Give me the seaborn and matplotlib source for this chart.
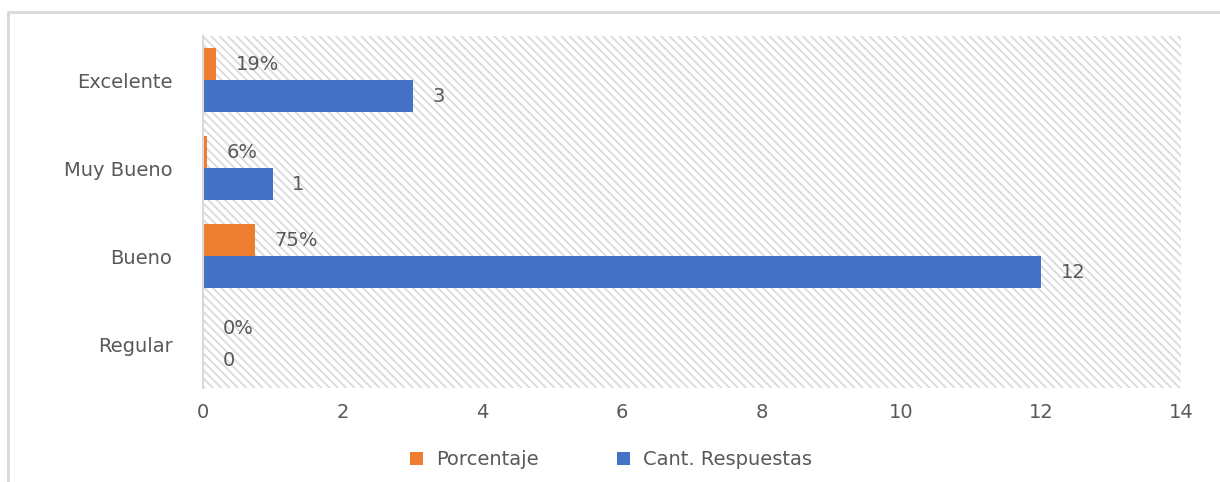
import matplotlib
matplotlib.use("Agg")
import matplotlib.pyplot as plt
from matplotlib.lines import Line2D
from matplotlib.patches import Rectangle
import pandas as pd
import seaborn as sns

# Survey results
categorias = ["Excelente", "Muy Bueno", "Bueno", "Regular"]
porcentaje = [0.19, 0.06, 0.75, 0.00]
cant_respuestas = [3, 1, 12, 0]
series = ["Porcentaje", "Cant. Respuestas"]
x_ticks = [0, 2, 4, 6, 8, 10, 12, 14]

sns.set_theme(style="white")
plt.rcParams["font.family"] = ["DejaVu Sans"]
plt.rcParams["hatch.linewidth"] = 1.3

GRAY_TEXT = "#595959"
ORANGE = "#ED7D31"
BLUE = "#4472C4"
FS = 14

df = pd.DataFrame({
    "categoria": categorias * 2,
    "valor": porcentaje + cant_respuestas,
    "serie": [series[0]] * len(categorias) + [series[1]] * len(categorias),
})

fig = plt.figure(figsize=(12.2, 4.82), dpi=100)
ax = fig.add_axes([0.1664, 0.195, 0.8016, 0.730])

# hatched plot area background
ax.set_facecolor("white")
ax.add_patch(Rectangle((0, 0), 1, 1, transform=ax.transAxes, facecolor="white",
                       edgecolor="#dadada", hatch="\\\\\\\\", linewidth=0, zorder=0))

sns.barplot(data=df, x="valor", y="categoria", hue="serie", orient="h",
            order=categorias, hue_order=series, palette=[ORANGE, BLUE],
            width=0.727, dodge=True, saturation=1, ax=ax, zorder=2,
            errorbar=None, linewidth=0)

# value labels
pct_labels = [f"{round(p * 100):d}%" for p in porcentaje]
cnt_labels = [f"{c:d}" for c in cant_respuestas]
for cont, labs in zip(ax.containers, [pct_labels, cnt_labels]):
    ax.bar_label(cont, labels=labs, padding=14, fontsize=FS, color=GRAY_TEXT)

ax.set_xlim(0, 14)
ax.set_ylim(3.5, -0.5)
ax.set_xticks(x_ticks)
ax.set_xticklabels([str(t) for t in x_ticks])
ax.set_xlabel("")
ax.set_ylabel("")
ax.tick_params(axis="both", length=0, labelsize=FS, colors=GRAY_TEXT)
ax.tick_params(axis="x", pad=11)
ax.tick_params(axis="y", pad=22)

for side in ["top", "right", "bottom"]:
    ax.spines[side].set_visible(False)
ax.spines["left"].set_color("#d9d9d9")
ax.spines["left"].set_linewidth(1.5)
ax.spines["left"].set_zorder(3)

ax.legend(loc="center", bbox_to_anchor=(0.501, 0.046), bbox_transform=fig.transFigure,
          ncol=2, frameon=False, fontsize=FS, handlelength=0.65, handleheight=0.65,
          handletextpad=0.7, columnspacing=4.0, labelcolor=GRAY_TEXT)

# chart frame
fig.add_artist(Line2D([8 / 1220, 1.0], [1 - 12 / 482, 1 - 12 / 482],
                      transform=fig.transFigure, color="#d9d9d9", linewidth=2))
fig.add_artist(Line2D([8 / 1220, 8 / 1220], [0, 1 - 12 / 482],
                      transform=fig.transFigure, color="#d9d9d9", linewidth=2))

fig.savefig("out.png", dpi=100)
